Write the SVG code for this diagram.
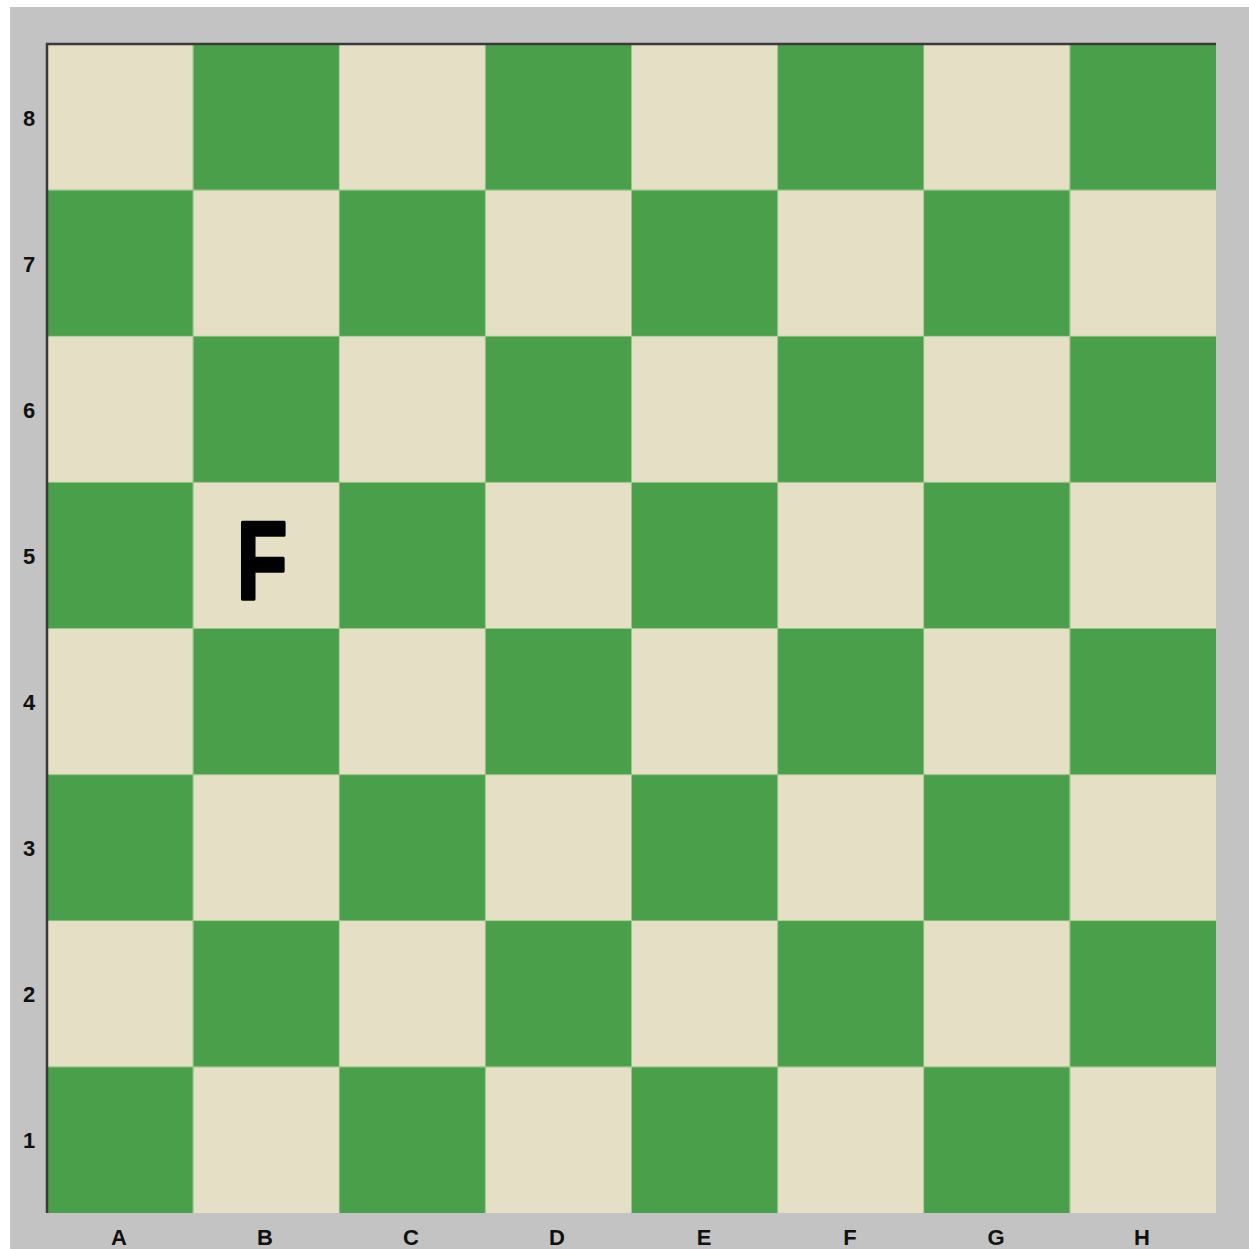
<svg xmlns="http://www.w3.org/2000/svg" width="1249" height="1249" viewBox="0 0 1249 1249">
<defs>
<style>
.lbl{font-family:"Liberation Sans",Arial,sans-serif;font-weight:bold;font-size:22px;fill:#111;text-anchor:middle}
.pc{font-family:"Liberation Sans",Arial,sans-serif;font-weight:bold;font-size:112px;fill:#000;stroke:#000;stroke-width:3.5;stroke-linejoin:round;text-anchor:middle}
</style>
<pattern id="board" x="47" y="44" width="292.25" height="292.25" patternUnits="userSpaceOnUse">
<rect x="0" y="0" width="292.25" height="292.25" fill="#4AA04A"/>
<rect x="0" y="0" width="146.125" height="146.125" fill="#E5DFC6"/>
<rect x="146.125" y="146.125" width="146.125" height="146.125" fill="#E5DFC6"/>
</pattern>
</defs>
<rect x="0" y="0" width="1249" height="1249" fill="#FFFFFF"/>
<rect x="10" y="7" width="1239" height="1242" fill="#C3C3C3"/>
<g id="board-squares">
<rect x="47" y="44" width="1169" height="1169" fill="url(#board)"/>
<g stroke="#9DCB8E" stroke-width="1" opacity="0.6">
<path d="M193.1 44V1213M339.2 44V1213M485.4 44V1213M631.5 44V1213M777.6 44V1213M923.7 44V1213M1069.9 44V1213"/>
<path d="M47 190.1H1216M47 336.2H1216M47 482.4H1216M47 628.5H1216M47 774.6H1216M47 920.7H1216M47 1066.9H1216"/>
</g>
<path d="M47 1213V44H1216" fill="none" stroke="#3A3A3A" stroke-width="2.5"/>
</g>
<g id="rank-labels">
<text class="lbl" x="29" y="126">8</text>
<text class="lbl" x="29" y="272">7</text>
<text class="lbl" x="29" y="418">6</text>
<text class="lbl" x="29" y="564">5</text>
<text class="lbl" x="29" y="710">4</text>
<text class="lbl" x="29" y="856">3</text>
<text class="lbl" x="29" y="1002">2</text>
<text class="lbl" x="29" y="1148">1</text>
</g>
<g id="file-labels">
<text class="lbl" x="119" y="1245">A</text>
<text class="lbl" x="265" y="1245">B</text>
<text class="lbl" x="411" y="1245">C</text>
<text class="lbl" x="557" y="1245">D</text>
<text class="lbl" x="704" y="1245">E</text>
<text class="lbl" x="850" y="1245">F</text>
<text class="lbl" x="996" y="1245">G</text>
<text class="lbl" x="1142" y="1245">H</text>
</g>
<g id="piece-b5">
<text class="pc" transform="translate(262 599) scale(0.74 1)" x="0" y="0">F</text>
</g>
</svg>
